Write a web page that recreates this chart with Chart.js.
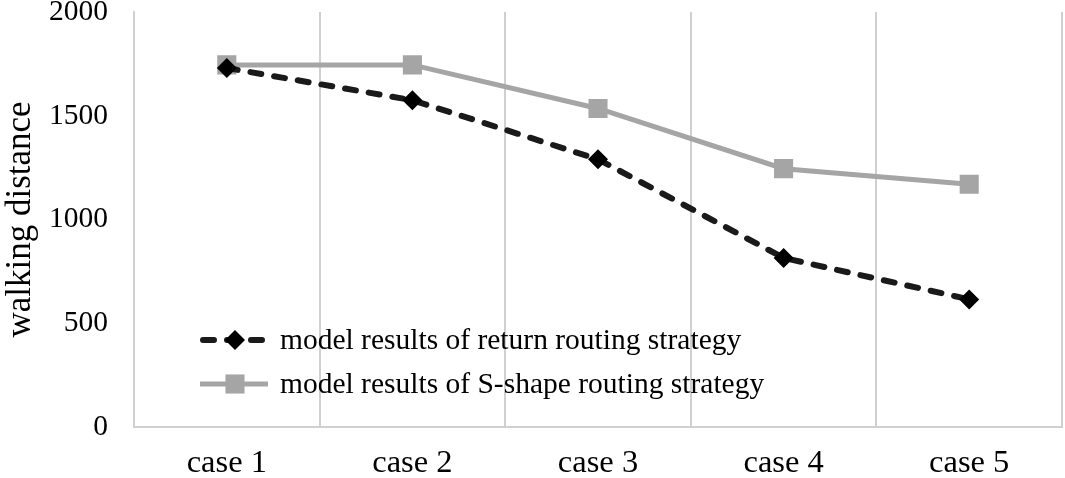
<!DOCTYPE html>
<html>
<head>
<meta charset="utf-8">
<script src="https://cdn.jsdelivr.net/npm/chart.js@4"></script>
<style>
  html,body{margin:0;padding:0;background:#fff;}
  #wrap{width:1065px;height:478px;}
</style>
</head>
<body>
<div id="wrap"><canvas id="walkChart" width="1065" height="478"></canvas></div>
<script>
// data
const cases = ["case 1","case 2","case 3","case 4","case 5"];
const returnRouting = [1730,1575,1290,815,615];
const sShapeRouting = [1745,1745,1535,1245,1170];
const yTicks = [0,500,1000,1500,2000];

const SERIF = "'Liberation Serif','Times New Roman',serif";
const GRID = "#d0d0d0";

// legend drawn inside the plot, lower left (return strategy listed first)
const insideLegend = {
  id:"insideLegend",
  afterDraw(chart){
    const ctx = chart.ctx;
    const order = [1, 0];
    const rows = [340, 384];
    order.forEach((di,row)=>{
      const ds = chart.data.datasets[di];
      const y = rows[row];
      const dashed = !!ds.borderDash;
      ctx.save();
      ctx.strokeStyle = ds.borderColor;
      ctx.lineWidth = ds.borderWidth;
      ctx.lineCap = ds.borderCapStyle || "butt";
      ctx.setLineDash(ds.borderDash || []);
      ctx.beginPath();
      ctx.moveTo(dashed ? 203 : 200, y);
      ctx.lineTo(dashed ? 265 : 268, y);
      ctx.stroke();
      ctx.setLineDash([]);
      ctx.fillStyle = ds.pointBackgroundColor;
      const cx = 235;
      if(ds.pointStyle==="rectRot"){
        const r = ds.pointRadius;
        ctx.beginPath();
        ctx.moveTo(cx, y-r); ctx.lineTo(cx+r, y); ctx.lineTo(cx, y+r); ctx.lineTo(cx-r, y);
        ctx.closePath(); ctx.fill();
      } else {
        const s = ds.pointRadius*Math.SQRT1_2;
        ctx.fillRect(cx-s, y-s, 2*s, 2*s);
      }
      ctx.fillStyle = "#000";
      ctx.font = "29.5px " + SERIF;
      ctx.textBaseline = "middle";
      ctx.fillText(ds.label, 280, y+1);
      ctx.restore();
    });
  }
};

new Chart(document.getElementById("walkChart"),{
  type:"line",
  data:{
    labels:cases,
    datasets:[
      {label:"model results of S-shape routing strategy",data:sShapeRouting,
       borderColor:"#a5a5a5",borderWidth:5,pointStyle:"rect",pointRadius:13.5,
       pointBackgroundColor:"#a5a5a5",pointBorderWidth:0,pointHoverRadius:13.5,tension:0,order:2},
      {label:"model results of return routing strategy",data:returnRouting,
       borderColor:"#1a1a1a",borderWidth:6,borderDash:[11,13],borderCapStyle:"round",
       pointStyle:"rectRot",pointRadius:10,pointBackgroundColor:"#000",pointBorderWidth:0,
       pointHoverRadius:10,tension:0,order:1}
    ]
  },
  options:{
    responsive:false,
    animation:false,
    layout:{autoPadding:false,padding:{left:0,right:3,top:0,bottom:0}},
    plugins:{legend:{display:false},tooltip:{enabled:false}},
    scales:{
      x:{
        offset:true,
        grid:{offset:true,color:GRID,lineWidth:2,drawTicks:false},
        border:{display:true,color:GRID,width:2},
        ticks:{color:"#000",font:{family:SERIF,size:32.5},padding:17},
        afterFit(s){ s.height = 51; }
      },
      y:{
        min:0,max:2000,
        afterBuildTicks(s){ s.ticks = yTicks.map(v=>({value:v})); },
        grid:{display:false,drawTicks:false},
        border:{display:true,color:GRID,width:2},
        ticks:{color:"#000",font:{family:SERIF,size:29.5},padding:26,callback:v=>String(v)},
        title:{display:true,text:"walking distance",color:"#000",
               font:{family:SERIF,size:35},padding:0},
        afterFit(s){ s.width = 134; s.paddingTop = 12; s.paddingBottom = 0; }
      }
    }
  },
  plugins:[insideLegend]
});
</script>
</body>
</html>
